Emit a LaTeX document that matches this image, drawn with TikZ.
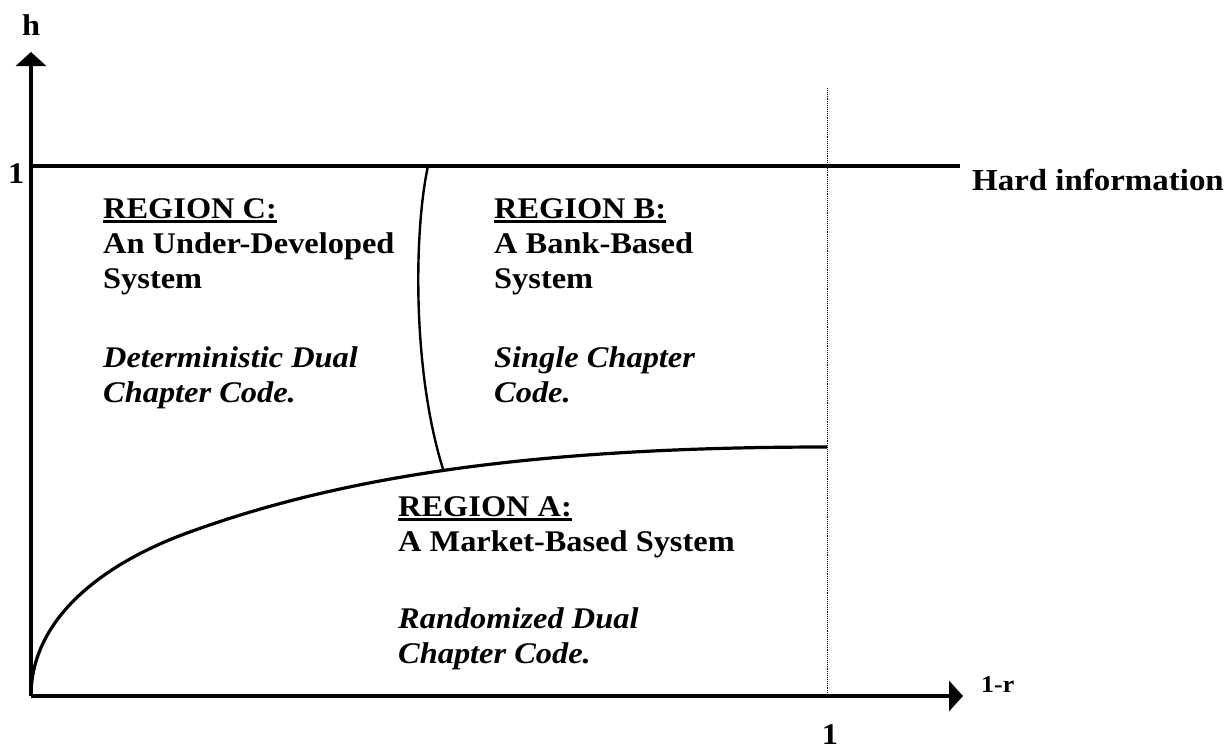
\documentclass[tikz,border=0pt]{standalone}
\usepackage{fontspec}
\setmainfont{Liberation Serif}[FakeStretch=1.08]
\usetikzlibrary{arrows.meta}
\newcommand\regul[1]{\leavevmode\sbox0{#1}\rlap{\rule[-5pt]{\wd0}{2.6pt}}\usebox0}
\tikzset{
  axisline/.style={line width=3.2pt, -{Triangle[width=30pt,length=14pt]}},
  thickline/.style={line width=3.2pt},
  thinline/.style={line width=2.4pt},
  guide/.style={line width=0.9pt, densely dotted},
  lbl/.style={anchor=base west, inner sep=0pt, font=\fontsize{30pt}{35pt}\selectfont\bfseries},
  smalllbl/.style={anchor=base west, inner sep=0pt, font=\fontsize{24pt}{28pt}\selectfont\bfseries},
}
\begin{document}
\begin{tikzpicture}[x=1pt,y=-1pt]
\useasboundingbox (0,0) rectangle (1230,750);
% coordinates
\coordinate (O) at (31,696);
\coordinate (Ytip) at (31,52);
\coordinate (Xtip) at (963,696);
\coordinate (H0) at (31,166);
\coordinate (H1) at (960,166);
\coordinate (Dtop) at (827,88);
\coordinate (Dbot) at (827,696);
\coordinate (Ctop) at (428,166);
\coordinate (Cbot) at (443,469);
\coordinate (Amid) at (187,533);
\coordinate (Aend) at (827,447);
% guide line
\draw[guide] (Dtop) -- (Dbot);
% axes
\draw[axisline] (O) -- (Ytip);
\draw[axisline] (O) -- (Xtip);
% hard information line
\draw[thickline] (H0) -- (H1);
% boundary curve A
\draw[thickline] (O) .. controls (31,620) and (100,565) .. (Amid)
  .. controls (337,478) and (527,447) .. (Aend);
% boundary curve B/C
\draw[thinline] (Ctop) .. controls (414,230) and (412,370) .. (Cbot);
% labels
\node[lbl] (hlab) at (22,35) {h};
\node[lbl] (oney) at (8,183) {1};
\node[lbl, anchor=base] (onex) at (830,744) {1};
\node[smalllbl] (rlab) at (981,692) {1-r};
\node[lbl] (hard) at (972,190) {\fontsize{30.5pt}{35pt}\selectfont Hard information};
\node[lbl] (regC) at (103,218) {\parbox[t]{320pt}{\regul{REGION C:}\\ An Under-Developed\\ System\\[44pt] \itshape Deterministic Dual\\ Chapter Code.}};
\node[lbl] (regB) at (494,218) {\parbox[t]{320pt}{\regul{REGION B:}\\ A Bank-Based\\ System\\[44pt] \itshape Single Chapter\\ Code.}};
\node[lbl] (regA) at (398,516) {\parbox[t]{400pt}{\regul{REGION A:}\\ A Market-Based System\\[42pt] \itshape Randomized Dual\\ Chapter Code.}};
\end{tikzpicture}
\end{document}
